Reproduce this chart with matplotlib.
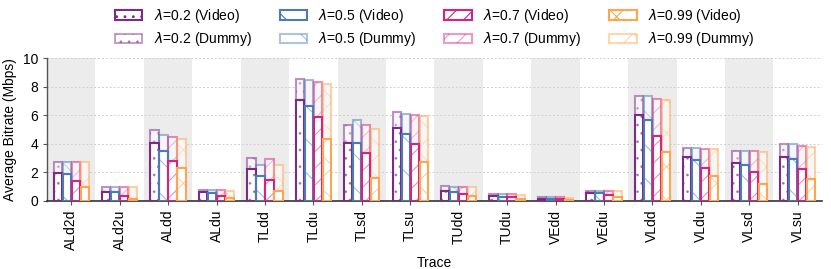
import matplotlib
matplotlib.use("Agg")
import matplotlib.pyplot as plt
from matplotlib.patches import Patch
from matplotlib.colors import to_rgba
import numpy as np

plt.rcParams['font.family'] = ['Liberation Sans', 'DejaVu Sans']
plt.rcParams['font.size'] = 10
plt.rcParams['hatch.linewidth'] = 0.8

traces = ['ALd2d', 'ALd2u', 'ALdd', 'ALdu', 'TLdd', 'TLdu', 'TLsd', 'TLsu',
          'TUdd', 'TUdu', 'VEdd', 'VEdu', 'VLdd', 'VLdu', 'VLsd', 'VLsu']

lambdas = ['0.2', '0.5', '0.7', '0.99']

video_02 = [1.99, 0.65, 4.09, 0.60, 2.27, 7.06, 4.07, 5.14, 0.68, 0.37, 0.14, 0.56, 6.03, 3.06, 2.69, 3.11]
dummy_02 = [2.76, 1.00, 4.98, 0.77, 3.04, 8.53, 5.30, 6.26, 1.03, 0.49, 0.26, 0.72, 7.38, 3.74, 3.53, 3.97]
video_05 = [1.89, 0.60, 3.48, 0.58, 1.78, 6.66, 4.07, 4.70, 0.63, 0.30, 0.12, 0.54, 5.65, 2.90, 2.55, 2.97]
dummy_05 = [2.76, 1.00, 4.60, 0.75, 2.55, 8.46, 5.65, 6.12, 0.98, 0.47, 0.26, 0.72, 7.38, 3.74, 3.53, 3.97]
video_07 = [1.38, 0.37, 2.83, 0.37, 1.50, 5.86, 3.34, 4.02, 0.51, 0.30, 0.12, 0.40, 4.58, 2.29, 2.00, 2.27]
dummy_07 = [2.71, 1.00, 4.49, 0.75, 2.97, 8.34, 5.35, 6.05, 0.98, 0.49, 0.26, 0.72, 7.17, 3.62, 3.48, 3.88]
video_099 = [1.00, 0.12, 2.34, 0.19, 0.68, 4.37, 1.64, 2.73, 0.35, 0.16, 0.05, 0.26, 3.46, 1.78, 1.19, 1.52]
dummy_099 = [2.71, 1.00, 4.35, 0.70, 2.55, 8.20, 5.07, 5.96, 0.98, 0.44, 0.23, 0.72, 7.06, 3.67, 3.41, 3.81]

videos = [video_02, video_05, video_07, video_099]
dummies = [dummy_02, dummy_05, dummy_07, dummy_099]
colors = ['#7b2a8a', '#4a7ab8', '#d6247e', '#ffa54f']
hatches = ['..', '\\', '//', 'x']

fig = plt.figure(figsize=(8.31, 2.69), dpi=100)
ax = fig.add_axes([0.0566, 0.253, 0.9324, 0.531])

x = np.arange(len(traces))
for i in x:
    if i % 2 == 0:
        ax.axvspan(i - 0.5, i + 0.5, color='#ececec', zorder=0, lw=0)

ax.yaxis.grid(True, linestyle=(0, (2, 2)), color='#cfcfcf', linewidth=0.7, zorder=0.5)
ax.set_axisbelow(True)

width = 0.17
step = 0.186
for k in range(4):
    off = (k - 1.5) * step
    v = np.array(videos[k])
    d = np.array(dummies[k])
    c = colors[k]
    # dummy part (stacked on top of video)
    ax.bar(x + off, d - v, width, bottom=v, facecolor='#f6f6f6',
           edgecolor=to_rgba(c, 0.28), hatch=hatches[k], linewidth=0, zorder=2)
    ax.bar(x + off, d - v, width, bottom=v, fill=False,
           edgecolor=to_rgba(c, 0.5), linewidth=1.5, zorder=3)
    # video part
    ax.bar(x + off, v, width, facecolor='white',
           edgecolor=to_rgba(c, 0.5), hatch=hatches[k], linewidth=0, zorder=2)
    ax.bar(x + off, v, width, fill=False, edgecolor=c, linewidth=1.5, zorder=4)

handles = []
for k in range(4):
    c = colors[k]
    handles.append(Patch(facecolor='white', edgecolor=c, hatch=hatches[k], linewidth=1.5,
                         label=r'$\lambda$=' + lambdas[k] + ' (Video)'))
    handles.append(Patch(facecolor='white', edgecolor=to_rgba(c, 0.45), hatch=hatches[k], linewidth=1.5,
                         label=r'$\lambda$=' + lambdas[k] + ' (Dummy)'))

ax.legend(handles=handles, ncol=4, loc='lower center', bbox_to_anchor=(0.5, 1.0),
          frameon=False, fontsize=10, borderaxespad=0.3, labelspacing=0.4)

ax.set_xlim(-0.5, len(traces) - 0.5)
ax.set_ylim(0, 10)
ax.set_yticks([0, 2, 4, 6, 8, 10])
ax.set_xticks(x)
ax.set_xticklabels(traces, rotation=90)
ax.set_xlabel('Trace')
ax.set_ylabel('Average Bitrate (Mbps)')
ax.tick_params(axis='y', length=3, color='#555555')
ax.tick_params(axis='x', length=3, color='#555555')
for s in ['top', 'right']:
    ax.spines[s].set_visible(False)
ax.spines['left'].set_color('#555555')
ax.spines['bottom'].set_color('#333333')
ax.spines['left'].set_linewidth(1.0)
ax.spines['bottom'].set_linewidth(1.2)

fig.savefig('out.png', dpi=100)
